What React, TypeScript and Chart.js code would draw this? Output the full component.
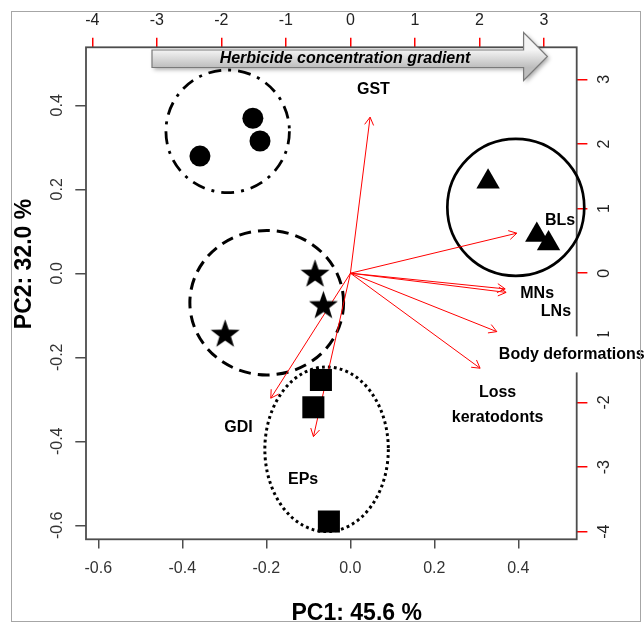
import { useEffect, useRef } from 'react';
import { Chart, registerables } from 'chart.js';
Chart.register(...registerables);

// ---- PCA scores (PC1, PC2) by group ----
const circleX = [-0.232, -0.215, -0.358];
const circleY = [0.369, 0.315, 0.279];
const triangleX = [0.328, 0.444, 0.472];
const triangleY = [0.218, 0.091, 0.071];
const starX = [-0.084, -0.064, -0.298];
const starY = [-0.003, -0.078, -0.146];
const squareX = [-0.070, -0.088, -0.051];
const squareY = [-0.254, -0.319, -0.591];

// ---- variable loadings (top / right axes) ----
const varNames = ['GST', 'BLs', 'MNs', 'LNs', 'Body deformations', 'Loss keratodonts', 'GDI', 'EPs'];
const loadX = [0.305, 2.579, 2.398, 2.413, 2.269, 2.010, -1.234, -0.573];
const loadY = [2.414, 0.619, -0.243, -0.297, -0.904, -1.470, -1.934, -2.528];
const labelLines = [['GST'], ['BLs'], ['MNs'], ['LNs'], ['Body deformations'], ['Loss', 'keratodonts'], ['GDI'], ['EPs']];
const labelX = [0.356, 3.248, 2.894, 3.185, 3.43, 2.281, -1.736, -0.733];
const labelY = [2.847, 0.817, -0.320, -0.594, -1.264, -2.038, -2.386, -3.198];

// ---- group enclosures (score units) ----
const ellCX = [-0.292, -0.199, 0.394, -0.0565];
const ellCY = [0.338, -0.070, 0.157, -0.419];
const ellRX = [0.147, 0.183, 0.163, 0.147];
const ellRY = [0.146, 0.172, 0.163, 0.196];
const ellStyle = ['dotdash', 'dashed', 'solid', 'dotted'];

// ---- axes ----
const scoreTicks = [-0.6, -0.4, -0.2, 0.0, 0.2, 0.4];
const loadingTicks = [-4, -3, -2, -1, 0, 1, 2, 3];
const xRange = [-0.6293, 0.539];
const yRange = [-0.6333, 0.538];
const x2Range = [-4.098, 3.507];
const y2Range = [-4.117, 3.495];

const xTitle = 'PC1: 45.6 %';
const yTitle = 'PC2: 32.0 %';
const gradientText = 'Herbicide concentration gradient';

const FONT = "'Liberation Sans', Arial, sans-serif";

function makeStar(R: number) {
  const size = Math.ceil(2 * R + 2);
  const c = document.createElement('canvas');
  c.width = size;
  c.height = size;
  const g = c.getContext('2d')!;
  const cx = size / 2, cy = size / 2, r = R * 0.4;
  g.beginPath();
  for (let i = 0; i < 10; i++) {
    const a = -Math.PI / 2 + (i * Math.PI) / 5;
    const rr = i % 2 === 0 ? R : r;
    g.lineTo(cx + rr * Math.cos(a), cy + rr * Math.sin(a));
  }
  g.closePath();
  g.fillStyle = '#000';
  g.fill();
  return c;
}

const biplotPlugin = {
  id: 'biplot',
  beforeDatasetsDraw(chart: any) {
    const { ctx, chartArea: ca, scales } = chart;
    const xs = scales.x, ys = scales.y, x2 = scales.x2, y2 = scales.y2;
    ctx.save();
    ctx.strokeStyle = '#4d4d4d';
    ctx.lineWidth = 1.8;
    ctx.strokeRect(ca.left, ca.top, ca.right - ca.left, ca.bottom - ca.top);
    for (let i = 0; i < ellCX.length; i++) {
      const cx = xs.getPixelForValue(ellCX[i]);
      const cy = ys.getPixelForValue(ellCY[i]);
      const rx = xs.getPixelForValue(ellCX[i] + ellRX[i]) - cx;
      const ry = cy - ys.getPixelForValue(ellCY[i] + ellRY[i]);
      ctx.beginPath();
      ctx.ellipse(cx, cy, rx, ry, 0, 0, Math.PI * 2);
      ctx.strokeStyle = '#000';
      ctx.lineCap = 'butt';
      const st = ellStyle[i];
      if (st === 'dotdash') { ctx.lineWidth = 2.8; ctx.setLineDash([13, 7, 3, 7]); }
      else if (st === 'dashed') { ctx.lineWidth = 3; ctx.setLineDash([12, 7]); }
      else if (st === 'dotted') { ctx.lineWidth = 3; ctx.setLineDash([2.8, 3.2]); }
      else { ctx.lineWidth = 2.7; ctx.setLineDash([]); }
      ctx.stroke();
    }
    ctx.setLineDash([]);
    const ox = x2.getPixelForValue(0), oy = y2.getPixelForValue(0);
    ctx.strokeStyle = '#ff0000';
    ctx.lineWidth = 1;
    for (let i = 0; i < loadX.length; i++) {
      const tx = x2.getPixelForValue(loadX[i]);
      const ty = y2.getPixelForValue(loadY[i]);
      const ang = Math.atan2(ty - oy, tx - ox);
      const L = 9, h = Math.PI / 6;
      ctx.beginPath();
      ctx.moveTo(ox, oy);
      ctx.lineTo(tx, ty);
      ctx.moveTo(tx - L * Math.cos(ang - h), ty - L * Math.sin(ang - h));
      ctx.lineTo(tx, ty);
      ctx.lineTo(tx - L * Math.cos(ang + h), ty - L * Math.sin(ang + h));
      ctx.stroke();
    }
    ctx.restore();
  },
  afterDatasetsDraw(chart: any) {
    const { ctx, scales } = chart;
    const x2 = scales.x2, y2 = scales.y2;
    ctx.save();
    ctx.font = `bold 16px ${FONT}`;
    ctx.textAlign = 'center';
    ctx.textBaseline = 'middle';
    for (let i = 0; i < varNames.length; i++) {
      const px = x2.getPixelForValue(labelX[i]);
      const py = y2.getPixelForValue(labelY[i]);
      const lines = labelLines[i];
      const lh = 25;
      if (varNames[i] === 'Body deformations') {
        const w = ctx.measureText(lines[0]).width;
        ctx.fillStyle = '#fff';
        ctx.fillRect(px - w / 2 - 3, py - 18.5, w + 6, 36);
      }
      ctx.fillStyle = '#000';
      lines.forEach((t, k) => {
        ctx.fillText(t, px, py + (k - (lines.length - 1) / 2) * lh);
      });
    }
    ctx.restore();
  },
  afterDraw(chart: any) {
    const { ctx } = chart;
    ctx.save();
    const bx0 = 152, bx1 = 523.6, by0 = 50, by1 = 67.5, hy0 = 32.5, hy1 = 80.5, tipX = 547.4, tipY = 56.5;
    ctx.beginPath();
    ctx.moveTo(bx0, by0);
    ctx.lineTo(bx1, by0);
    ctx.lineTo(bx1, hy0);
    ctx.lineTo(tipX, tipY);
    ctx.lineTo(bx1, hy1);
    ctx.lineTo(bx1, by1);
    ctx.lineTo(bx0, by1);
    ctx.closePath();
    const grad = ctx.createLinearGradient(0, by0, 0, by1);
    grad.addColorStop(0, '#f4f4f4');
    grad.addColorStop(1, '#bdbdbd');
    ctx.shadowColor = 'rgba(0,0,0,0.35)';
    ctx.shadowBlur = 4;
    ctx.shadowOffsetX = 2;
    ctx.shadowOffsetY = 2;
    ctx.fillStyle = grad;
    ctx.fill();
    ctx.shadowColor = 'transparent';
    ctx.strokeStyle = '#7a7a7a';
    ctx.lineWidth = 1.2;
    ctx.stroke();
    ctx.fillStyle = '#000';
    ctx.font = `italic bold 16px ${FONT}`;
    ctx.textAlign = 'center';
    ctx.textBaseline = 'middle';
    ctx.fillText(gradientText, 345, 58.5, 258);
    ctx.font = `bold 23px ${FONT}`;
    ctx.textBaseline = 'alphabetic';
    ctx.fillText(xTitle, 356.7, 620);
    ctx.save();
    ctx.translate(31, 264);
    ctx.rotate(-Math.PI / 2);
    ctx.fillText(yTitle, 0, 0);
    ctx.restore();
    ctx.strokeStyle = '#a6a6a6';
    ctx.lineWidth = 1;
    ctx.strokeRect(11.5, 11.5, 629, 610);
    ctx.restore();
  },
};

function fixedTicks(values: number[]) {
  return (s: any) => { s.ticks = values.map((v) => ({ value: v })); };
}

export default function App() {
  const ref = useRef<HTMLCanvasElement>(null);
  useEffect(() => {
    const canvas = ref.current!;
    const star = makeStar(15.2);
    const pts = (xs: number[], ys: number[]) => xs.map((x, i) => ({ x, y: ys[i] }));
    const tickFont = { family: FONT, size: 16 };
    const chart = new Chart(canvas, {
      type: 'scatter',
      data: {
        datasets: [
          { data: pts(circleX, circleY), pointStyle: 'circle', pointRadius: 10.5, pointBackgroundColor: '#000', pointBorderWidth: 0 },
          { data: pts(triangleX, triangleY), pointStyle: 'triangle', pointRadius: 13.5, pointBackgroundColor: '#000', pointBorderWidth: 0 },
          { data: pts(starX, starY), pointStyle: star as any, pointRadius: 15, pointBackgroundColor: '#000', pointBorderWidth: 0 },
          { data: pts(squareX, squareY), pointStyle: 'rect', pointRadius: 15.6, pointBackgroundColor: '#000', pointBorderWidth: 0 },
        ] as any,
      },
      options: {
        responsive: false,
        maintainAspectRatio: false,
        animation: false,
        events: [],
        layout: { padding: 0 },
        plugins: { legend: { display: false }, tooltip: { enabled: false } },
        elements: { point: { hoverRadius: 0 } },
        datasets: { scatter: { clip: false } } as any,
        scales: {
          x: {
            type: 'linear', position: 'bottom', min: xRange[0], max: xRange[1],
            afterBuildTicks: fixedTicks(scoreTicks),
            afterFit: (s: any) => { s.height = 83.7; },
            ticks: { font: tickFont, color: '#333', padding: 10.8, autoSkip: false, maxRotation: 0, minRotation: 0, callback: (v: any) => Number(v).toFixed(1) },
            grid: { drawOnChartArea: false, drawTicks: true, tickLength: 9.3, color: '#4d4d4d', lineWidth: 1.5 },
            border: { display: false },
          },
          x2: {
            type: 'linear', position: 'top', min: x2Range[0], max: x2Range[1],
            afterBuildTicks: fixedTicks(loadingTicks),
            afterFit: (s: any) => { s.height = 47.3; },
            ticks: { font: tickFont, color: '#222', padding: 7.5, autoSkip: false, maxRotation: 0, minRotation: 0, callback: (v: any) => String(v) },
            grid: { drawOnChartArea: false, drawTicks: true, tickLength: 9.5, color: '#ff0000', lineWidth: 1.5 },
            border: { display: false },
          },
          y: {
            type: 'linear', position: 'left', min: yRange[0], max: yRange[1],
            afterBuildTicks: fixedTicks(scoreTicks),
            afterFit: (s: any) => { s.width = 86; },
            ticks: { font: tickFont, color: '#333', padding: 4, autoSkip: false, minRotation: 90, maxRotation: 90, crossAlign: 'center', callback: (v: any) => Number(v).toFixed(1) },
            grid: { drawOnChartArea: false, drawTicks: true, tickLength: 10.7, color: '#4d4d4d', lineWidth: 1.5 },
            border: { display: false },
          },
          y2: {
            type: 'linear', position: 'right', min: y2Range[0], max: y2Range[1],
            afterBuildTicks: fixedTicks(loadingTicks),
            afterFit: (s: any) => { s.width = 67.3; },
            ticks: { font: tickFont, color: '#222', padding: 10.5, autoSkip: false, minRotation: 90, maxRotation: 90, crossAlign: 'center', callback: (v: any) => String(v) },
            grid: { drawOnChartArea: false, drawTicks: true, tickLength: 10.7, color: '#ff0000', lineWidth: 1.5 },
            border: { display: false },
          },
        } as any,
      },
      plugins: [biplotPlugin],
    });
    return () => chart.destroy();
  }, []);
  return (
    <div style={{ position: 'absolute', left: 0, top: 0, width: 644, height: 623, background: '#fff', overflow: 'hidden' }}>
      <canvas ref={ref} width={644} height={623} style={{ display: 'block' }} />
    </div>
  );
}
